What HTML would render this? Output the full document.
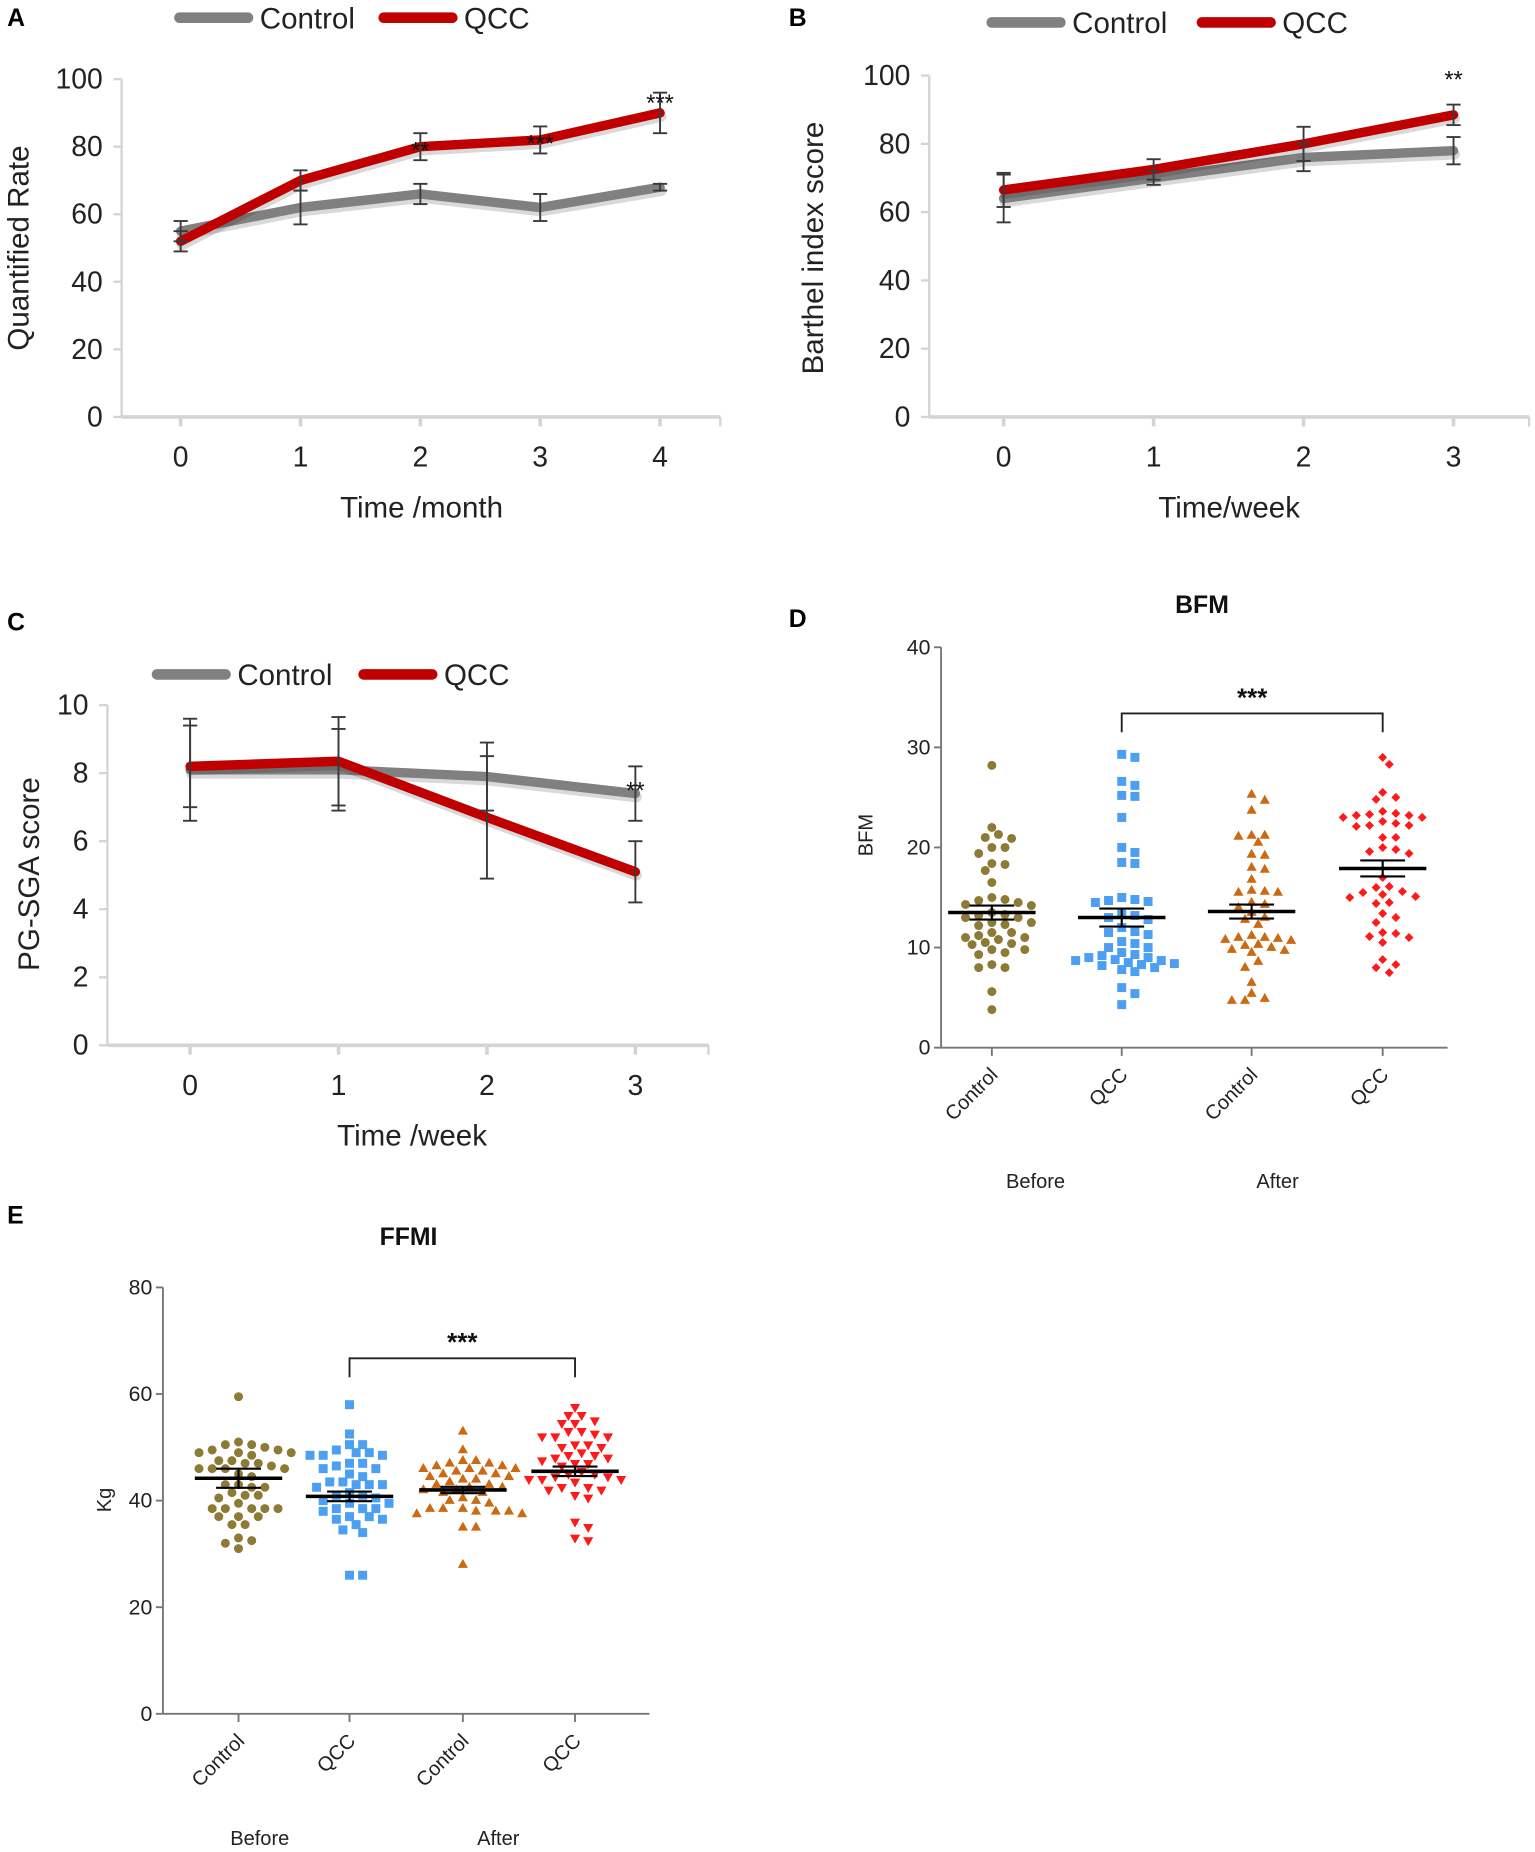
<!DOCTYPE html>
<html><head><meta charset="utf-8">
<style>
html,body{margin:0;padding:0;background:#fff;}
svg{display:block;font-family:"Liberation Sans",Arial,sans-serif;}
</style></head>
<body>
<svg id="fig" width="1535" height="1852" viewBox="0 0 1300 1568" preserveAspectRatio="none" xmlns="http://www.w3.org/2000/svg">
<rect width="1300" height="1568" fill="#fff"/>
<g id="panelA"></g>
<g id="panelB"></g>
<g id="panelC"></g>
<g id="panelD"></g>
<g id="panelE"></g>
</svg>
<script>
// ---- Panel A data ----
var aCats = ["0","1","2","3","4"];
var aTicks = [0,20,40,60,80,100];
var aControl = [55,62,66,62,68];
var aControlErr = [3,5,3,4,1];
var aQcc = [52,70,80,82,90];
var aQccErr = [3,3,4,4,6];
var aStars = ["","","**","***","***"];
var aStarVals = [0,0,80,82,94];
// ---- Panel B data ----
var bCats = ["0","1","2","3"];
var bTicks = [0,20,40,60,80,100];
var bControl = [64,70,76,78];
var bControlErr = [7,2,4,4];
var bQcc = [66.5,72.5,80,88.5];
var bQccErr = [5,3,5,3];
var bStars = ["","","","**"];
var bStarVals = [0,0,0,100];
// ---- Panel C data ----
var cCats = ["0","1","2","3"];
var cTicks = [0,2,4,6,8,10];
var cControl = [8.1,8.1,7.9,7.4];
var cControlErr = [1.5,1.2,1.0,0.8];
var cQcc = [8.2,8.35,6.7,5.1];
var cQccErr = [1.2,1.3,1.8,0.9];
var cStars = ["","","","**"];
var cStarVals = [0,0,0,7.6];
// ---- Panel D data (BFM) ----
var dCats = ["Control","QCC","Control","QCC"];
var dTicks = [0,10,20,30,40];
var dBeforeControl = [28.2,22,21.3,21,20.9,20,20,19.4,18.4,18.3,17.7,16.5,15,14.8,14.7,14.5,14.3,14.2,13.5,13.3,13.2,13,13,12.5,12.5,12.3,12.2,11.5,11.5,11.2,11,11,10.8,10.5,10.4,10.3,9.8,9.8,9.5,9.3,8.3,8,8,5.6,3.8];
var dBeforeQcc = [29.3,29,26.6,26.2,25.2,25.1,23,20,19.5,18.5,18.4,15,14.8,14.7,14.6,14.5,13.5,13.2,13,12.8,12,11.6,11.5,11.3,10.6,10.4,10,10,9.5,9.3,9.2,9,9,8.8,8.7,8.7,8.5,8.4,8.3,8.2,8,7.8,7.6,6,5.4,4.3];
var dAfterControl = [25.3,24.7,23.7,21.2,21.2,21.1,20.5,19.3,19.2,18,17.8,16.8,15.7,15.6,15.5,15.5,14.5,14.3,14,13.5,13,12.8,12.3,11.2,11,11,10.9,10.8,10.7,10.3,10.2,10,9.8,9.7,9.5,8.6,8,6.5,5.4,4.9,4.7,4.7];
var dAfterQcc = [29,28.3,25.5,25,24.8,23.6,23.4,23.3,23.2,23.2,23,23,22.6,22.4,22.2,22.2,22.1,21,21,20,19.8,19.6,19.4,17,16.1,16,15.6,15.5,15.3,15.1,15,14.5,14.4,13.4,13,12.5,11.5,11.4,11.1,11,10.5,8.8,8.3,8,7.5];
var dMeans = [13.5,13.0,13.6,17.9];
var dSems = [0.7,0.9,0.7,0.8];
// ---- Panel E data (FFMI) ----
var eCats = ["Control","QCC","Control","QCC"];
var eTicks = [0,20,40,60,80];
var eBeforeControl = [59.5,51,50.5,50.5,50,49.5,49.5,49,49,49,48.5,47.5,47.5,47,47,46.5,46,46,46,46,45,44.5,43,43,42.5,42.5,41.5,41,41,40.5,39.5,38.5,38.5,38.5,38.5,38.5,37,37,37,35.5,35.5,33,32.5,32,31];
var eBeforeQcc = [58,52.5,50.5,50.5,49.5,49,49,48.5,48.5,48.5,47,47,46.5,46,46,45,44.5,43.5,43.5,43,43,43,42.5,41.5,41,41,40.5,40,39.5,39.5,38.5,38.5,38.5,38,37,37,36.5,36.5,35.5,34.5,34,26,26];
var eAfterControl = [53,49.5,47.5,47.5,47,47,46.5,46.5,46,46,46,45.5,45.5,45,45,44.5,44.5,44,44,43.5,43,43,42.5,42.5,42,42,41.5,41.5,40.5,40,40,39.5,38.5,38.5,38.5,38,38,38,37.5,37.5,35,35,28];
var eAfterQcc = [57.5,56,56,55,54.5,54.5,53,53,52.5,52,52,52,50.5,50.5,50,50,49,48.5,48.5,48,48,47.5,47,47,46.5,45.5,45,45,44.5,44.5,44,44,44,43.5,42.5,42.5,42,42,41,40.5,36,35,33,32.5];
var eMeans = [44.2,40.8,42.0,45.5];
var eSems = [1.8,0.9,0.6,0.9];

var NS = "http://www.w3.org/2000/svg";
function mk(parent, tag, attrs, text){
  var el = document.createElementNS(NS, tag);
  for (var k in attrs) el.setAttribute(k, attrs[k]);
  if (text !== undefined) el.textContent = text;
  parent.appendChild(el);
  return el;
}

function lineChart(g, o){
  var ymax = o.ticks[o.ticks.length-1];
  function ys(v){ return o.yBase - (v/ymax)*(o.yBase - o.yTop); }
  function xs(i){ return o.xFirst + i*o.xStep; }
  var ax = mk(g,'line',{x1:o.axX,y1:o.yTop,x2:o.axX,y2:o.yBase,stroke:'#d4d4d4','stroke-width':2});
   
  var bx = mk(g,'line',{x1:o.axX,y1:o.yBase,x2:o.axEnd,y2:o.yBase,stroke:'#d4d4d4','stroke-width':3});
   
  mk(g,'line',{x1:o.axEnd,y1:o.yBase,x2:o.axEnd,y2:o.yBase+8,stroke:'#d4d4d4','stroke-width':2});
  o.ticks.forEach(function(t){
    mk(g,'line',{x1:o.axX-7,y1:ys(t),x2:o.axX,y2:ys(t),stroke:'#d4d4d4','stroke-width':2});
    var tl = mk(g,'text',{x:o.axX-16,y:ys(t)+8,'text-anchor':'end','font-size':24,fill:'#222'},String(t));
     
  });
  o.cats.forEach(function(c,i){
    mk(g,'line',{x1:xs(i),y1:o.yBase,x2:xs(i),y2:o.yBase+8,stroke:'#d4d4d4','stroke-width':3});
    var tl = mk(g,'text',{x:xs(i),y:o.yBase+42,'text-anchor':'middle','font-size':24,fill:'#222'},c);
     
  });
  o.series.forEach(function(s){
    var pts = s.vals.map(function(v,i){ return xs(i)+','+ys(v); }).join(' ');
    mk(g,'polyline',{points:pts,fill:'none',stroke:'rgba(0,0,0,0.15)','stroke-width':9,'stroke-linejoin':'round','stroke-linecap':'round',transform:'translate(1,3)'});
    var pl = mk(g,'polyline',{points:pts,fill:'none',stroke:s.color,'stroke-width':8,'stroke-linejoin':'round','stroke-linecap':'round'});
    
    
  });
  o.series.forEach(function(s){
    s.vals.forEach(function(v,i){
      var e = s.errs[i], x = xs(i), y1 = ys(v+e), y2 = ys(v-e);
      var eg = mk(g,'g',{stroke:'#3a3a3a','stroke-width':1.6});
       
      mk(eg,'line',{x1:x,y1:y1,x2:x,y2:y2});
      mk(eg,'line',{x1:x-6,y1:y1,x2:x+6,y2:y1});
      mk(eg,'line',{x1:x-6,y1:y2,x2:x+6,y2:y2});
    });
  });
  o.stars.forEach(function(st,i){
    if(!st) return;
    var t = mk(g,'text',{x:xs(i),y:ys(o.starVals[i])+10,'text-anchor':'middle','font-size':20,fill:'#111'},st);
     
  });
  var yt = mk(g,'text',{x:0,y:0,transform:'translate('+o.yTitleX+','+o.yTitleY+') rotate(-90)','text-anchor':'middle','font-size':25,fill:'#222'},o.yTitle);
   
  var xt = mk(g,'text',{x:o.xTitleX,y:o.xTitleY,'text-anchor':'middle','font-size':25,fill:'#222'},o.xTitle);
   
  var lg = mk(g,'g',{});
   
  var le1 = mk(lg,'g',{});
   
  mk(le1,'line',{x1:o.legX,y1:o.legY,x2:o.legX+58,y2:o.legY,stroke:'#808080','stroke-width':9,'stroke-linecap':'round'});
  mk(le1,'text',{x:o.legX+68,y:o.legY+9,'font-size':25,fill:'#222'},'Control');
  var le2 = mk(lg,'g',{});
   
  mk(le2,'line',{x1:o.legX2,y1:o.legY,x2:o.legX2+58,y2:o.legY,stroke:'#c00000','stroke-width':9,'stroke-linecap':'round'});
  mk(le2,'text',{x:o.legX2+68,y:o.legY+9,'font-size':25,fill:'#222'},'QCC');
  var pl = mk(g,'text',{x:o.letterX||6,y:o.letterY,'font-size':21,'font-weight':'bold',fill:'#000'},o.letter);
   
}

function marker(g, shape, x, y, color){
  var r = 3.8, el;
  if(shape==='circle') el = mk(g,'circle',{cx:x,cy:y,r:r,fill:color});
  else if(shape==='square') el = mk(g,'rect',{x:x-r,y:y-r,width:2*r,height:2*r,fill:color});
  else if(shape==='tri') el = mk(g,'polygon',{points:(x)+','+(y-r-1)+' '+(x+r+0.5)+','+(y+r-1)+' '+(x-r-0.5)+','+(y+r-1),fill:color});
  else if(shape==='itri') el = mk(g,'polygon',{points:(x)+','+(y+r+1)+' '+(x+r+0.5)+','+(y-r+1)+' '+(x-r-0.5)+','+(y-r+1),fill:color});
  else el = mk(g,'polygon',{points:x+','+(y-r)+' '+(x+r)+','+y+' '+x+','+(y+r)+' '+(x-r)+','+y,fill:color});
  
  
}

function swarm(ypix, d){
  var idx = ypix.map(function(v,i){return i;}).sort(function(a,b){return ypix[a]-ypix[b];});
  var placed = [], out = new Array(ypix.length);
  idx.forEach(function(i){
    var y = ypix[i];
    for(var k=0;k<40;k++){
      var off = (k===0)?0:(k%2? 1:-1)*Math.ceil(k/2)*d*0.68;
      var ok = placed.every(function(p){ var dx=p[0]-off, dy=p[1]-y; return dx*dx+dy*dy >= d*d*0.9; });
      if(ok){ placed.push([off,y]); out[i]=off; break; }
    }
    if(out[i]===undefined) out[i]=0;
  });
  return out;
}

function scatterChart(g, o){
  var ymax = o.ticks[o.ticks.length-1];
  function ys(v){ return o.yBase - (v/ymax)*(o.yBase - o.yTop); }
  var ax = mk(g,'line',{x1:o.axX,y1:o.yTop,x2:o.axX,y2:o.yBase,stroke:'#777','stroke-width':1.6});
   
  var bx = mk(g,'line',{x1:o.axX,y1:o.yBase,x2:o.axEnd,y2:o.yBase,stroke:'#777','stroke-width':1.6});
   
  o.ticks.forEach(function(t){
    mk(g,'line',{x1:o.axX-6,y1:ys(t),x2:o.axX,y2:ys(t),stroke:'#777','stroke-width':1.6});
    var tl = mk(g,'text',{x:o.axX-9,y:ys(t)+6,'text-anchor':'end','font-size':18,fill:'#222'},String(t));
     
  });
  o.cats.forEach(function(c,i){
    var x = o.xs[i];
    mk(g,'line',{x1:x,y1:o.yBase,x2:x,y2:o.yBase+7,stroke:'#777','stroke-width':1.6});
    var tl = mk(g,'text',{x:0,y:0,transform:'translate('+(x+6)+','+(o.yBase+24)+') rotate(-45)','text-anchor':'end','font-size':17,fill:'#222'},c);
     
  });
  o.groups.forEach(function(gr,i){
    var gg = mk(g,'g',{});
    
    
    var yp = gr.vals.map(ys);
    var offs = swarm(yp, 8.2);
    yp.forEach(function(y,j){ marker(gg, gr.shape, o.xs[i]+offs[j], y, gr.color); });
  });
  o.means.forEach(function(m,i){
    var x = o.xs[i], y = ys(m), y1 = ys(m+o.sems[i]), y2 = ys(m-o.sems[i]);
    var mg = mk(g,'g',{stroke:'#000'});
     
    mk(mg,'line',{x1:x-37,y1:y,x2:x+37,y2:y,'stroke-width':3});
    mk(mg,'line',{x1:x,y1:y1,x2:x,y2:y2,'stroke-width':1.8});
    mk(mg,'line',{x1:x-19,y1:y1,x2:x+19,y2:y1,'stroke-width':1.8});
    mk(mg,'line',{x1:x-19,y1:y2,x2:x+19,y2:y2,'stroke-width':1.8});
  });
  var br = mk(g,'polyline',{points:o.xs[1]+','+(o.brY+16)+' '+o.xs[1]+','+o.brY+' '+o.xs[3]+','+o.brY+' '+o.xs[3]+','+(o.brY+16),fill:'none',stroke:'#222','stroke-width':1.6});
   
  var st = mk(g,'text',{x:(o.xs[1]+o.xs[3])/2,y:o.brY-6,'text-anchor':'middle','font-size':22,'font-weight':'bold',fill:'#111'},'***');
   
  var ti = mk(g,'text',{x:o.titleX,y:o.titleY,'text-anchor':'middle','font-size':21,'font-weight':'bold',fill:'#111'},o.title);
   
  var yt = mk(g,'text',{x:0,y:0,transform:'translate('+o.yTitleX+','+o.yTitleY+') rotate(-90)','text-anchor':'middle','font-size':17,fill:'#222'},o.yTitle);
   
  var b = mk(g,'text',{x:o.beforeX,y:o.grpY,'text-anchor':'middle','font-size':17,fill:'#222'},'Before');
   
  var a = mk(g,'text',{x:o.afterX,y:o.grpY,'text-anchor':'middle','font-size':17,fill:'#222'},'After');
   
  var pl = mk(g,'text',{x:o.letterX,y:o.letterY,'font-size':21,'font-weight':'bold',fill:'#000'},o.letter);
   
}

lineChart(document.getElementById('panelA'),{
  letter:'A', letterY:22, ticks:aTicks, cats:aCats, axX:103, axEnd:610, yBase:353, yTop:67,
  xFirst:153, xStep:101.5, stars:aStars, starVals:aStarVals,
  series:[{name:'line-control',vals:aControl,errs:aControlErr,color:'#808080'},{name:'line-qcc',vals:aQcc,errs:aQccErr,color:'#c00000'}],
  yTitle:'Quantified Rate', yTitleX:24, yTitleY:210, xTitle:'Time /month', xTitleX:357, xTitleY:438,
  legX:152, legX2:325, legY:15
});
lineChart(document.getElementById('panelB'),{
  letter:'B', letterX:668, letterY:22, ticks:bTicks, cats:bCats, axX:787, axEnd:1295, yBase:353, yTop:64,
  xFirst:850, xStep:127, stars:bStars, starVals:bStarVals,
  series:[{name:'line-control',vals:bControl,errs:bControlErr,color:'#808080'},{name:'line-qcc',vals:bQcc,errs:bQccErr,color:'#c00000'}],
  yTitle:'Barthel index score', yTitleX:697, yTitleY:210, xTitle:'Time/week', xTitleX:1041, xTitleY:438,
  legX:840, legX2:1018, legY:19
});
lineChart(document.getElementById('panelC'),{
  letter:'C', letterY:534, ticks:cTicks, cats:cCats, axX:91, axEnd:600, yBase:885, yTop:597,
  xFirst:161, xStep:125.7, stars:cStars, starVals:cStarVals,
  series:[{name:'line-control',vals:cControl,errs:cControlErr,color:'#808080'},{name:'line-qcc',vals:cQcc,errs:cQccErr,color:'#c00000'}],
  yTitle:'PG-SGA score', yTitleX:33, yTitleY:740, xTitle:'Time /week', xTitleX:349, xTitleY:970,
  legX:133, legX2:308, legY:571
});
scatterChart(document.getElementById('panelD'),{
  letter:'D', letterX:668, letterY:531, title:'BFM', titleX:1018, titleY:519,
  ticks:dTicks, cats:dCats, axX:797, axEnd:1226, yBase:887, yTop:548, xs:[840,950,1060,1171],
  groups:[{vals:dBeforeControl,shape:'circle',color:'#8c7a35'},{vals:dBeforeQcc,shape:'square',color:'#4d9ff2'},{vals:dAfterControl,shape:'tri',color:'#cc6a14'},{vals:dAfterQcc,shape:'diamond',color:'#ff1a1a'}],
  means:dMeans, sems:dSems, brY:604, yTitle:'BFM', yTitleX:739, yTitleY:707, grpY:1006, beforeX:877, afterX:1082
});
scatterChart(document.getElementById('panelE'),{
  letter:'E', letterX:6, letterY:1036, title:'FFMI', titleX:346, titleY:1054,
  ticks:eTicks, cats:eCats, axX:138, axEnd:550, yBase:1451, yTop:1090, xs:[202,296,392,487],
  groups:[{vals:eBeforeControl,shape:'circle',color:'#8c7a35'},{vals:eBeforeQcc,shape:'square',color:'#4d9ff2'},{vals:eAfterControl,shape:'tri',color:'#cc6a14'},{vals:eAfterQcc,shape:'itri',color:'#ff1a1a'}],
  means:eMeans, sems:eSems, brY:1150, yTitle:'Kg', yTitleX:94, yTitleY:1270, grpY:1562, beforeX:220, afterX:422
});
</script>
</body></html>
